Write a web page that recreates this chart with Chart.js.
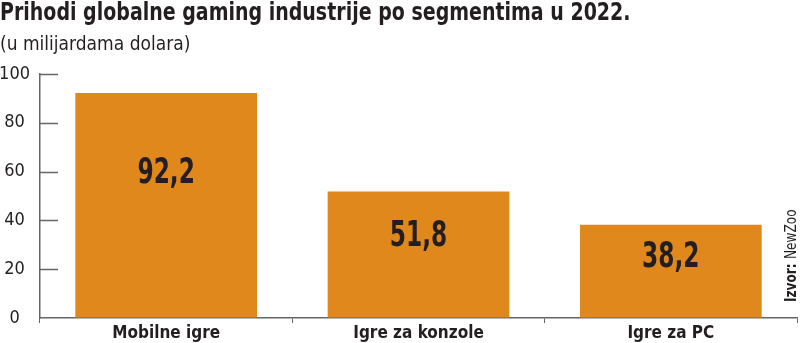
<!DOCTYPE html>
<html>
<head>
<meta charset="utf-8">
<script src="https://cdn.jsdelivr.net/npm/chart.js@4"></script>
<style>
  html, body { margin: 0; padding: 0; background: #fff; }
  #wrap { width: 800px; height: 343px; }
</style>
</head>
<body>
<div id="wrap"><canvas id="myChart" width="800" height="343"></canvas></div>
<script>
const naslov = 'Prihodi globalne gaming industrije po segmentima u 2022.';
const podnaslov = '(u milijardama dolara)';
const segmenti = ['Mobilne igre', 'Igre za konzole', 'Igre za PC'];
const prihodi = [92.2, 51.8, 38.2];
const yTicks = [0, 20, 40, 60, 80, 100];

const FONT = "'Liberation Sans Narrow', 'DejaVu Sans Condensed', 'Roboto', sans-serif";
const ORANGE = '#E1881D';
const AXIS = '#666666';
const TEXT = '#231f20';

// sužen tekst (font u referenci je condensed)
function uskiTekst(ctx, tekst, x, y, sx) {
    ctx.save();
    ctx.translate(x, y);
    ctx.scale(sx, 1);
    ctx.fillText(tekst, 0, 0);
    ctx.restore();
}

// naslov, oznake vrijednosti, crtice na y osi, izvor
const ukrasi = {
    id: 'ukrasi',
    afterDraw(chart) {
        const ctx = chart.ctx;
        const y = chart.scales.y;
        const x = chart.scales.x;
        const area = chart.chartArea;

        ctx.save();
        ctx.fillStyle = TEXT;
        ctx.textAlign = 'left';
        ctx.textBaseline = 'middle';
        ctx.font = 'bold 24px ' + FONT;
        uskiTekst(ctx, naslov, 0, 14, 0.88);
        ctx.font = '19px ' + FONT;
        uskiTekst(ctx, podnaslov, 0, 45, 1);

        ctx.strokeStyle = AXIS;
        ctx.lineWidth = 1.5;
        yTicks.forEach(v => {
            if (v === 0) return;
            const py = Math.round(y.getPixelForValue(v)) + 0.5;
            ctx.beginPath();
            ctx.moveTo(area.left, py);
            ctx.lineTo(area.left + 18, py);
            ctx.stroke();
        });

        ctx.font = 'bold 35px ' + FONT;
        ctx.textAlign = 'center';
        prihodi.forEach((v, i) => {
            const px = x.getPixelForValue(i);
            const py = y.getPixelForValue(v * 0.64);
            uskiTekst(ctx, v.toFixed(1).replace('.', ','), px, py, 0.74);
        });

        ctx.translate(792, 302);
        ctx.rotate(-Math.PI / 2);
        ctx.scale(0.9, 1);
        ctx.textAlign = 'left';
        ctx.font = 'bold 15px ' + FONT;
        ctx.fillText('Izvor:', 0, 0);
        const w = ctx.measureText('Izvor: ').width;
        ctx.font = '15px ' + FONT;
        ctx.fillText('NewZoo', w, 0);
        ctx.restore();
    }
};

const ctx = document.getElementById('myChart').getContext('2d');
new Chart(ctx, {
    type: 'bar',
    data: {
        labels: segmenti,
        datasets: [{
            data: prihodi,
            backgroundColor: ORANGE,
            borderWidth: 0,
            categoryPercentage: 1,
            barPercentage: 0.72
        }]
    },
    options: {
        responsive: false,
        animation: false,
        layout: { padding: { left: 0, right: 3, top: 74, bottom: 0 } },
        plugins: {
            legend: { display: false },
            tooltip: { enabled: false }
        },
        scales: {
            x: {
                afterFit(scale) { scale.height = 25; },
                grid: {
                    offset: true,
                    drawOnChartArea: false,
                    drawTicks: true,
                    tickLength: 5,
                    color: AXIS,
                    lineWidth: 1
                },
                border: { display: true, color: AXIS, width: 1.5 },
                ticks: {
                    color: TEXT,
                    padding: 0,
                    font: { family: FONT, size: 17, weight: 'bold' }
                }
            },
            y: {
                min: 0,
                max: 100,
                afterFit(scale) { scale.width = 40; },
                afterBuildTicks(scale) { scale.ticks = yTicks.map(v => ({ value: v })); },
                grid: { display: true, drawOnChartArea: false, drawTicks: false },
                border: { display: true, color: AXIS, width: 1.5 },
                ticks: {
                    color: TEXT,
                    padding: 10,
                    crossAlign: 'center',
                    font: { family: FONT, size: 18 }
                }
            }
        }
    },
    plugins: [ukrasi]
});
</script>
</body>
</html>
